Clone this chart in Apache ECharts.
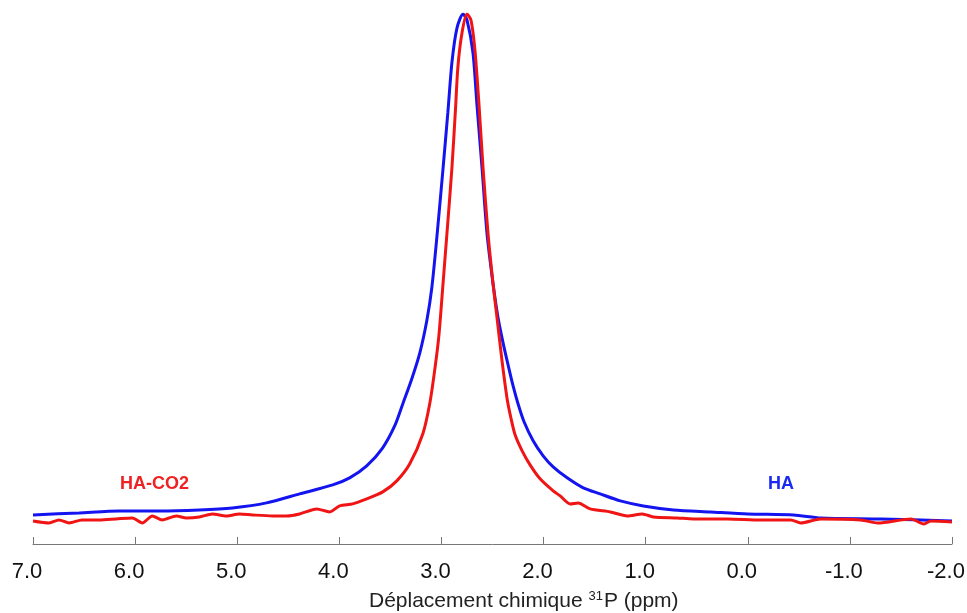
<!DOCTYPE html>
<html>
<head>
<meta charset="utf-8">
<script src="https://cdn.jsdelivr.net/npm/echarts@6/dist/echarts.min.js"></script>
<style>html,body{margin:0;padding:0;background:#fff;overflow:hidden}#c{width:967px;height:613px}</style>
</head>
<body>
<div id="c"></div>
<script>
// Chemical shift (ppm) and relative intensity
var haPpm = [7.000,6.548,6.156,5.763,5.371,5.047,4.713,4.389,4.065,3.899,3.732,3.575,3.457,3.378,3.290,3.211,3.143,3.094,3.045,2.986,2.937,2.897,2.848,2.789,2.750,2.691,2.652,2.603,2.554,2.495,2.446,2.397,2.348,2.299,2.250,2.191,2.102,2.004,1.906,1.769,1.611,1.445,1.248,1.023,0.728,0.365,0.000,-0.450,-0.715,-1.304,-2.000];
var haInt = [5.48,5.86,6.24,6.24,6.43,6.81,7.75,9.45,11.15,12.48,14.74,18.15,22.31,26.47,31.19,36.11,42.16,48.39,57.84,70.51,81.47,90.93,97.35,100.0,98.87,92.63,82.80,71.08,58.60,49.15,42.72,38.00,33.84,29.87,26.47,23.06,19.47,16.64,14.56,12.48,10.59,9.45,8.13,7.18,6.43,6.05,5.67,5.48,4.91,4.73,4.35];

var hacoPpm = [7.000,6.843,6.745,6.647,6.519,6.352,6.185,6.028,5.930,5.832,5.734,5.596,5.498,5.371,5.243,5.106,4.978,4.850,4.654,4.517,4.389,4.222,4.095,3.997,3.869,3.732,3.575,3.437,3.310,3.182,3.113,3.064,3.025,2.986,2.946,2.897,2.863,2.839,2.799,2.750,2.711,2.672,2.632,2.593,2.544,2.495,2.456,2.407,2.357,2.318,2.279,2.210,2.132,2.034,1.906,1.837,1.739,1.661,1.543,1.347,1.180,1.033,0.925,0.689,0.532,0.198,-0.125,-0.420,-0.518,-0.715,-1.107,-1.274,-1.598,-1.725,-1.794,-2.000];
var hacoInt = [4.35,3.97,4.54,3.97,4.54,4.54,4.73,4.91,3.97,5.29,4.54,5.29,4.91,5.10,5.67,5.29,5.67,5.48,5.29,5.29,5.67,6.62,6.05,7.18,7.56,8.51,9.83,11.91,15.12,20.79,26.65,33.08,39.32,48.77,58.60,71.08,81.85,89.98,96.41,100.0,98.87,93.19,82.80,71.08,58.60,49.15,42.72,34.59,27.41,23.63,20.60,17.58,14.93,12.29,10.02,9.07,7.56,7.75,6.62,6.05,5.29,5.67,5.10,4.91,4.73,4.73,4.54,4.54,3.97,4.73,4.54,3.97,4.73,3.78,4.35,4.16];

var xMin = -2, xMax = 7, xStep = 1;
var seriesNames = ['HA', 'HA-CO2'];

function pairs(xs, ys) { return xs.map(function (x, i) { return [x, ys[i]]; }); }

var chart = echarts.init(document.getElementById('c'), null, {renderer: 'canvas'});
var font = '"Liberation Sans", Arial, Helvetica, sans-serif';
chart.setOption({
  animation: false,
  backgroundColor: '#ffffff',
  grid: {left: 33, right: 15, top: 14, bottom: 66, containLabel: false, outerBoundsMode: 'none'},
  xAxis: {
    type: 'value', inverse: true, min: xMin, max: xMax, interval: xStep,
    axisLine: {show: true, lineStyle: {color: '#777', width: 1}},
    axisTick: {show: true, inside: true, length: 7, lineStyle: {color: '#777', width: 1}},
    axisLabel: {color: '#111', fontSize: 22, fontFamily: font, margin: 14, padding: [0, 12, 0, 0],
      formatter: function (v) { return v.toFixed(1); }},
    splitLine: {show: false}
  },
  yAxis: {
    type: 'value', min: -0.57, max: 100, show: false,
    splitLine: {show: false}
  },
  series: [
    {name: seriesNames[0], type: 'line', data: pairs(haPpm, haInt), showSymbol: false, smooth: 0.25,
      lineStyle: {color: '#1414f0', width: 3}, z: 2},
    {name: seriesNames[1], type: 'line', data: pairs(hacoPpm, hacoInt), showSymbol: false, smooth: 0.25,
      lineStyle: {color: '#f01414', width: 3}, z: 3}
  ],
  graphic: [
    {type: 'text', left: 120, top: 475, style: {text: 'HA-CO2', fill: '#ee2222', font: 'bold 18px ' + font}},
    {type: 'text', left: 768, top: 475, style: {text: 'HA', fill: '#1a2af0', font: 'bold 18px ' + font}},
    {type: 'text', left: 369, top: 590, style: {
      rich: {
        n: {fontSize: 21, fontFamily: font, fill: '#222'},
        s: {fontSize: 13, fontFamily: font, fill: '#222', verticalAlign: 'top', padding: [0, 1, 9, 0]}
      },
      text: '{n|Déplacement chimique }{s|31}{n|P (ppm)}'
    }}
  ]
});
</script>
</body>
</html>
